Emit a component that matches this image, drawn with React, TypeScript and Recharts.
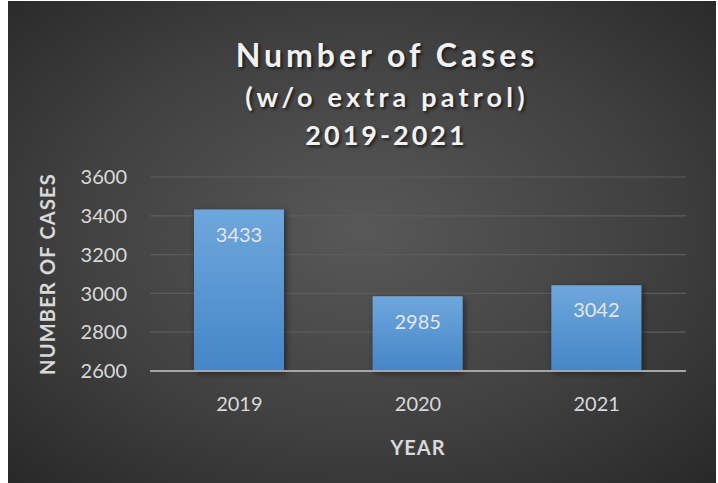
import { BarChart, Bar, XAxis, YAxis, CartesianGrid, LabelList } from "recharts";

const years = ["2019", "2020", "2021"];
const cases = [3433, 2985, 3042];
const yTicks = [2600, 2800, 3000, 3200, 3400, 3600];
const titleLines = ["Number of Cases", "(w/o extra patrol)", "2019-2021"];

const data = years.map((year, i) => ({ year, cases: cases[i] }));

const FONT = "Lato, 'Open Sans', sans-serif";
const TEXT = "#d9d9d9";

// title rows: font size, top, letter spacing
const titleRows = [
  { size: 32, top: 35, spacing: 4 },
  { size: 27, top: 80, spacing: 4.2 },
  { size: 27, top: 118, spacing: 3 },
];

export default function App() {
  return (
    <div
      style={{
        position: "absolute",
        left: 8,
        top: 1,
        width: 708,
        height: 482,
        fontFamily: FONT,
        background: "radial-gradient(ellipse 75% 75% at 50% 48%, #585858 0%, #404040 55%, #262626 100%)",
      }}
    >
      {titleLines.map((line, i) => (
        <div
          key={line}
          style={{
            position: "absolute",
            left: 127,
            width: 500,
            top: titleRows[i].top,
            paddingLeft: titleRows[i].spacing,
            boxSizing: "border-box",
            textAlign: "center",
            color: "#f2f2f2",
            fontWeight: 700,
            fontSize: titleRows[i].size,
            lineHeight: `${titleRows[i].size * 1.2}px`,
            letterSpacing: titleRows[i].spacing,
            textShadow: "2px 2px 3px rgba(0,0,0,0.6)",
            whiteSpace: "nowrap",
          }}
        >
          {line}
        </div>
      ))}
      <BarChart
        width={708}
        height={482}
        data={data}
        margin={{ top: 176, right: 30, bottom: 22, left: 20 }}
        style={{ position: "absolute", left: 0, top: 0 }}
      >
        <defs>
          <linearGradient id="barFill" x1="0" y1="0" x2="0" y2="1">
            <stop offset="0%" stopColor="#6ea7dc" />
            <stop offset="100%" stopColor="#4586c8" />
          </linearGradient>
          <filter id="barShadow" x="-20%" y="-20%" width="140%" height="140%">
            <feDropShadow dx="2" dy="2" stdDeviation="3" floodColor="#000" floodOpacity="0.5" />
          </filter>
        </defs>
        <CartesianGrid vertical={false} stroke="#5c5c5c" strokeWidth={1.2} />
        <XAxis
          dataKey="year"
          height={90}
          tickLine={false}
          tickMargin={20}
          axisLine={{ stroke: "#a6a6a6", strokeWidth: 2 }}
          tick={{ fill: TEXT, fontSize: 20, fontFamily: FONT }}
          label={{
            value: "YEAR",
            position: "insideBottom",
            offset: 6,
            fill: TEXT,
            fontSize: 20,
            fontWeight: 700,
            letterSpacing: 1,
            fontFamily: FONT,
          }}
        />
        <YAxis
          width={122}
          domain={[2600, 3600]}
          ticks={yTicks}
          interval={0}
          axisLine={false}
          tickLine={false}
          tickMargin={17}
          tick={{ fill: TEXT, fontSize: 20, fontFamily: FONT }}
          label={{
            value: "NUMBER OF CASES",
            angle: -90,
            position: "insideLeft",
            offset: 20,
            textAnchor: "middle",
            fill: TEXT,
            fontSize: 20,
            fontWeight: 700,
            letterSpacing: 1.2,
            fontFamily: FONT,
          }}
        />
        <Bar
          dataKey="cases"
          barSize={90}
          fill="url(#barFill)"
          filter="url(#barShadow)"
          isAnimationActive={false}
        >
          <LabelList
            dataKey="cases"
            position="insideTop"
            offset={18}
            fill="#e6e6e6"
            fontSize={20}
            fontFamily={FONT}
          />
        </Bar>
      </BarChart>
    </div>
  );
}
